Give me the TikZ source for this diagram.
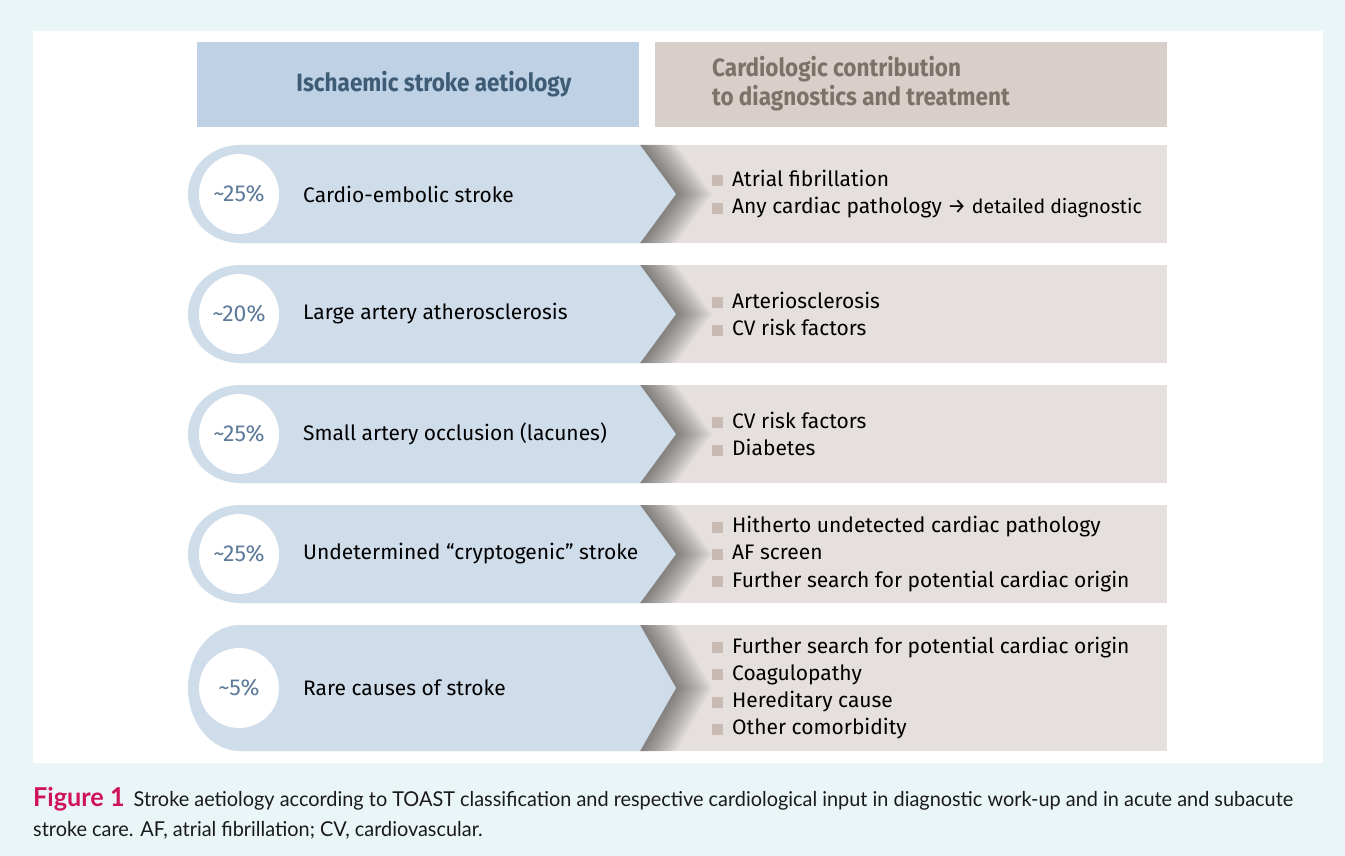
\documentclass[tikz,border=0pt]{standalone}
\usepackage{fontspec}
\setmainfont{Fira Sans}
\newfontfamily\hdfont[FakeStretch=0.9]{Fira Sans}
\newfontfamily\capfont[FakeStretch=0.97]{Lato}
\definecolor{outerbg}{HTML}{EAF5F8}
\definecolor{hdblue}{HTML}{BFD1E5}
\definecolor{hdbeige}{HTML}{D8CFCA}
\definecolor{rowblue}{HTML}{CFDCE9}
\definecolor{rowbeige}{HTML}{E5E0DD}
\definecolor{hdbluetext}{HTML}{3E5C75}
\definecolor{hdbeigetext}{HTML}{7D716A}
\definecolor{pcttext}{HTML}{5E7C9A}
\definecolor{bsqcol}{HTML}{C9BAB3}
\definecolor{figred}{HTML}{D0145A}
\definecolor{captext}{HTML}{1A1A1A}
\newcommand\bsq{{\color{bsqcol}\rule{11pt}{11pt}}\hspace{9pt}}
\tikzset{
  pctcircle/.style={circle, fill=white, minimum size=80pt, inner sep=0pt, text=pcttext, font=\fontsize{23}{27}\selectfont},
  rowlabel/.style={anchor=west, inner sep=0pt, font=\fontsize{21}{25}\selectfont, text=black},
  bullets/.style={anchor=west, inner sep=0pt, align=left, font=\fontsize{21}{27.3}\selectfont, text=black},
  hdtext/.style={inner sep=0pt, font=\hdfont\bfseries\fontsize{25}{29}\selectfont},
}
\newcommand\strow[6]{%
  \pgfmathsetmacro\rM{(#2+#3)/2}%
  \pgfmathsetmacro\rH{(#3-#2)/2}%
  \fill[rowbeige] (640,#2) rectangle (1167,#3);
  \begin{scope}
    \clip (640,#2) rectangle (1167,#3);
    \foreach \s in {2,4,...,36}
      \fill[black,opacity=0.026] (640+\s,#2) -- (676+\s,\rM) -- (640+\s,#3) -- (640,#3) -- (640,#2) -- cycle;
  \end{scope}
  \fill[rowblue] (640,#2) -- (240,#2) arc[start angle=270,end angle=90,x radius=52,y radius=\rH] -- (640,#3) -- (676,\rM) -- cycle;
  \node[pctcircle] (#1p) at (239,\rM) {#4};
  \node[rowlabel] (#1l) at (303,\rM) {#5};
  \node[bullets] (#1b) at (712,\rM) {#6};
}
\begin{document}
\begin{tikzpicture}[x=1pt,y=-1pt]
\fill[outerbg] (0,0) rectangle (1345,856);
\useasboundingbox (0,0) rectangle (1345,856);
\fill[white] (33,31) rectangle (1323,763);
% headers
\fill[hdblue] (197,42) rectangle (639,127);
\fill[hdbeige] (655,42) rectangle (1167,127);
\node[hdtext, text=hdbluetext] (hl) at (434,84.5) {Ischaemic stroke aetiology};
\node[hdtext, text=hdbeigetext, anchor=west, align=left, font=\hdfont\bfseries\fontsize{25}{29}\selectfont] (hr) at (712,84) {Cardiologic contribution\\to diagnostics and treatment};
% rows
\strow{r1}{145}{243}{\textasciitilde 25\%}{Cardio-embolic stroke}{\bsq Atrial fibrillation\\\bsq Any cardiac pathology \textrightarrow{} {\fontsize{19.5}{24}\selectfont detailed diagnostic}}
\strow{r2}{265}{363}{\textasciitilde 20\%}{Large artery atherosclerosis}{\bsq Arteriosclerosis\\\bsq CV risk factors}
\strow{r3}{385}{483}{\textasciitilde 25\%}{Small artery occlusion (lacunes)}{\bsq CV risk factors\\\bsq Diabetes}
\strow{r4}{505}{603}{\textasciitilde 25\%}{Undetermined “cryptogenic” stroke}{\bsq Hitherto undetected cardiac pathology\\\bsq AF screen\\\bsq Further search for potential cardiac origin}
\strow{r5}{625}{751}{\textasciitilde 5\%}{Rare causes of stroke}{\bsq Further search for potential cardiac origin\\\bsq Coagulopathy\\\bsq Hereditary cause\\\bsq Other comorbidity}
% caption
\node[anchor=base west, inner sep=0pt, text=captext, font=\capfont\fontsize{20.5}{24}\selectfont] (cap1) at (33,806) {{\color{figred}\bfseries\fontsize{26}{28}\selectfont Figure 1}\hspace{9pt}Stroke aetiology according to TOAST classification and respective cardiological input in diagnostic work-up and in acute and subacute};
\node[anchor=base west, inner sep=0pt, text=captext, font=\capfont\fontsize{20.5}{24}\selectfont] (cap2) at (33,836) {stroke care. AF, atrial fibrillation; CV, cardiovascular.};
\end{tikzpicture}
\end{document}
